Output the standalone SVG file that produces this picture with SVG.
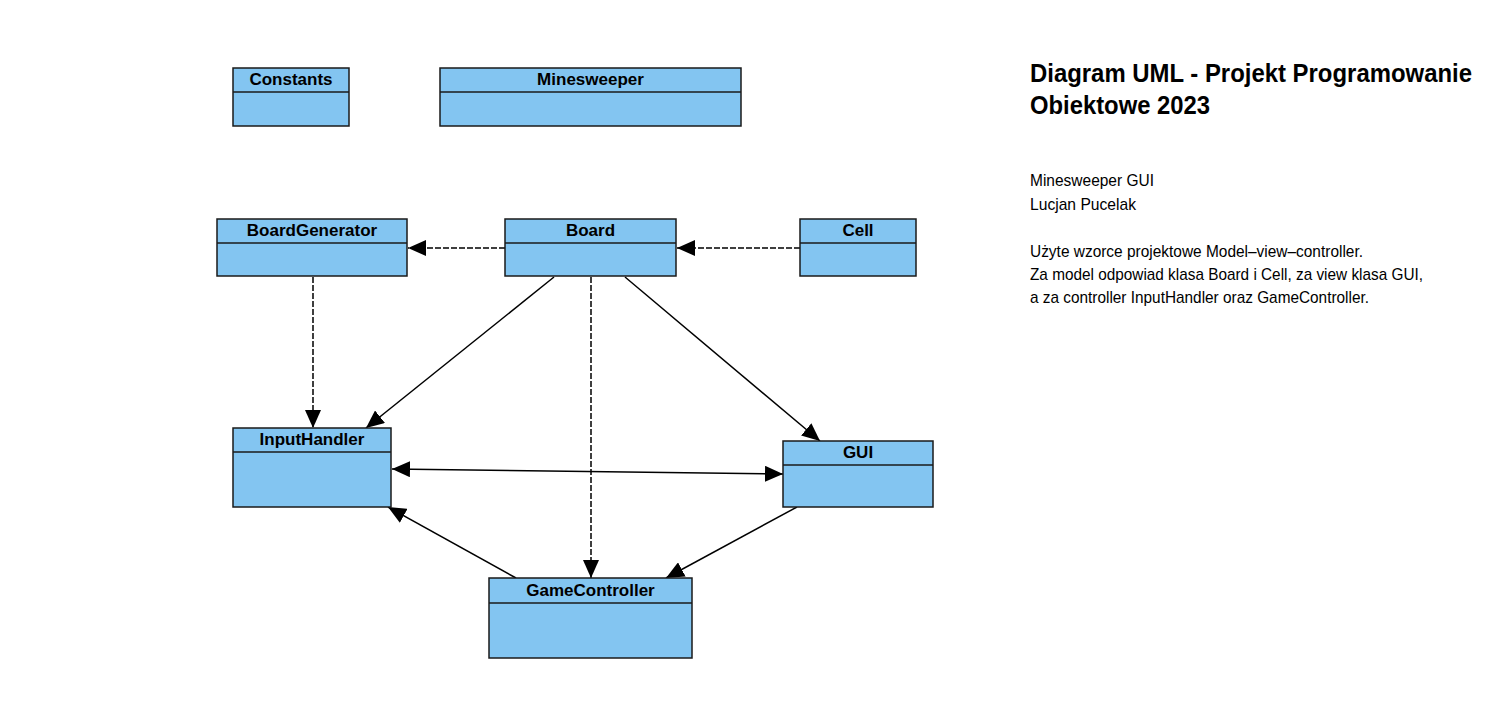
<svg xmlns="http://www.w3.org/2000/svg" width="1506" height="704" viewBox="0 0 1506 704">
<style>
.box{fill:#83c5f1;stroke:#1a1a1a;stroke-width:1.5}
.div{stroke:#1a1a1a;stroke-width:1.5}
.hdr{font-family:"Liberation Sans",Arial,sans-serif;font-weight:bold;font-size:17px;fill:#000;text-anchor:middle}
.ln{fill:none;stroke:#000;stroke-width:1.5}
.dash{stroke-dasharray:6 2}
.title{font-family:"Liberation Sans",Arial,sans-serif;font-weight:bold;font-size:25px;fill:#000}
.note{font-family:"Liberation Sans",Arial,sans-serif;font-size:17px;fill:#000}
</style>
<defs>
<marker id="arr" markerUnits="userSpaceOnUse" viewBox="0 0 18 16" markerWidth="18" markerHeight="16" refX="18" refY="8" orient="auto-start-reverse">
<path d="M0,0 L18,8 L0,16 z" fill="#000"/>
</marker>
</defs>
<rect width="1506" height="704" fill="#fff"/>
<g id="connectors">
<line class="ln dash" x1="505" y1="248" x2="408" y2="248" marker-end="url(#arr)"/>
<line class="ln dash" x1="800" y1="248" x2="677" y2="248" marker-end="url(#arr)"/>
<line class="ln dash" x1="313" y1="277" x2="313" y2="428" marker-end="url(#arr)"/>
<line class="ln" x1="554" y1="277" x2="366" y2="428" marker-end="url(#arr)"/>
<line class="ln dash" x1="591" y1="277" x2="591" y2="578" marker-end="url(#arr)"/>
<line class="ln" x1="625" y1="277" x2="820" y2="441" marker-end="url(#arr)"/>
<line class="ln" x1="392" y1="469" x2="783" y2="474" marker-start="url(#arr)" marker-end="url(#arr)"/>
<line class="ln" x1="516" y1="578" x2="388" y2="507" marker-end="url(#arr)"/>
<line class="ln" x1="797" y1="507" x2="666" y2="578" marker-end="url(#arr)"/>
</g>
<g id="Constants">
<rect class="box" x="233" y="68" width="116" height="58"/>
<line class="div" x1="233" y1="92" x2="349" y2="92"/>
<text class="hdr" x="291" y="85">Constants</text>
</g>
<g id="Minesweeper">
<rect class="box" x="440" y="68" width="301" height="58"/>
<line class="div" x1="440" y1="92" x2="741" y2="92"/>
<text class="hdr" x="590.5" y="85">Minesweeper</text>
</g>
<g id="BoardGenerator">
<rect class="box" x="217" y="219" width="190" height="57"/>
<line class="div" x1="217" y1="243" x2="407" y2="243"/>
<text class="hdr" x="312" y="236">BoardGenerator</text>
</g>
<g id="Board">
<rect class="box" x="505" y="219" width="171" height="57"/>
<line class="div" x1="505" y1="243" x2="676" y2="243"/>
<text class="hdr" x="590.5" y="236">Board</text>
</g>
<g id="Cell">
<rect class="box" x="800" y="219" width="116" height="57"/>
<line class="div" x1="800" y1="243" x2="916" y2="243"/>
<text class="hdr" x="858" y="236">Cell</text>
</g>
<g id="InputHandler">
<rect class="box" x="233" y="428" width="158" height="79"/>
<line class="div" x1="233" y1="452" x2="391" y2="452"/>
<text class="hdr" x="312" y="445">InputHandler</text>
</g>
<g id="GUI">
<rect class="box" x="783" y="441" width="150" height="66"/>
<line class="div" x1="783" y1="465" x2="933" y2="465"/>
<text class="hdr" x="858" y="458">GUI</text>
</g>
<g id="GameController">
<rect class="box" x="489" y="578" width="203" height="80"/>
<line class="div" x1="489" y1="603" x2="692" y2="603"/>
<text class="hdr" x="590.5" y="596">GameController</text>
</g>
<g id="description">
<text class="title" x="1030" y="82" textLength="442" lengthAdjust="spacingAndGlyphs">Diagram UML - Projekt Programowanie</text>
<text class="title" x="1030" y="114" textLength="180" lengthAdjust="spacingAndGlyphs">Obiektowe 2023</text>
<text class="note" x="1030" y="186" textLength="124" lengthAdjust="spacingAndGlyphs">Minesweeper GUI</text>
<text class="note" x="1030" y="210" textLength="106" lengthAdjust="spacingAndGlyphs">Lucjan Pucelak</text>
<text class="note" x="1030" y="257" textLength="333" lengthAdjust="spacingAndGlyphs">Użyte wzorce projektowe Model–view–controller.</text>
<text class="note" x="1030" y="280" textLength="393" lengthAdjust="spacingAndGlyphs">Za model odpowiad klasa Board i Cell, za view klasa GUI,</text>
<text class="note" x="1030" y="303" textLength="339" lengthAdjust="spacingAndGlyphs">a za controller InputHandler oraz GameController.</text>
</g>
</svg>
